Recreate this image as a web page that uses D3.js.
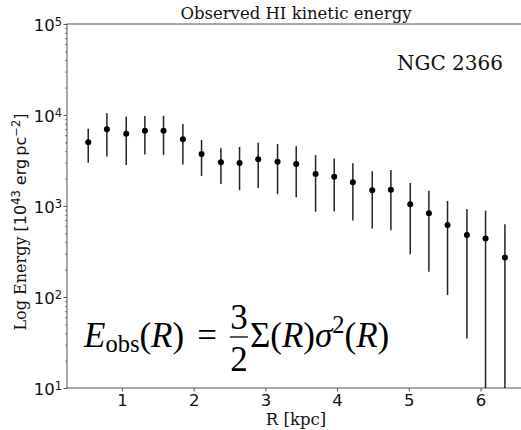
<!DOCTYPE html>
<html>
<head>
<meta charset="utf-8">
<script src="https://cdn.jsdelivr.net/npm/d3@7"></script>
<style>
    body { margin: 0; background: #ffffff; }
</style>
</head>
<body>
<script>
// radius of each annulus [kpc]
let radius = [0.53, 0.79, 1.06, 1.32, 1.58, 1.85, 2.11, 2.38, 2.64, 2.90, 3.17, 3.43,
              3.70, 3.96, 4.22, 4.49, 4.75, 5.02, 5.28, 5.54, 5.81, 6.07, 6.34]
// observed energy [1e43 erg pc^-2]
let energy = [5010, 6970, 6230, 6720, 6720, 5400, 3730, 3020, 2970, 3260, 3070, 2890,
              2250, 2100, 1820, 1490, 1510, 1045, 830, 620, 480, 440, 272]
// symmetric error on energy
let energyErr = [2030, 3480, 3400, 3050, 3090, 2540, 1590, 1280, 1480, 1680, 1720, 1640,
                 1385, 1230, 1125, 925, 970, 750, 640, 515, 445, 448, 359]
let xTicks = [1, 2, 3, 4, 5, 6]
let yTicks = [1e1, 1e2, 1e3, 1e4, 1e5]
let yTickExp = ['1', '2', '3', '4', '5']
let title = 'Observed HI kinetic energy'
let galaxy = 'NGC 2366'

function main(){

    let width = 521
    let height = 430
    let left = 67, right = 525, top = 24, bottom = 388

    let svg = d3.select('body')
        .append('svg')
        .attr('width', width)
        .attr('height', height)

    let x = d3.scaleLinear()
                .domain([0.234, 6.62])
                .range([left, right])

    let y = d3.scaleLog()
                .domain([10, 1e5])
                .range([bottom, top])

    // frame (right edge falls just outside the picture)
    svg.append('rect')
        .attr('x', left)
        .attr('y', top)
        .attr('width', right - left)
        .attr('height', bottom - top)
        .attr('fill', 'none')
        .attr('stroke', '#555')
        .attr('stroke-width', 1)

    // x axis
    let xAxis = svg.append('g')
        .attr('transform', 'translate(0,' + bottom + ')')
        .call(d3.axisBottom(x).tickValues(xTicks).tickSize(3.5).tickPadding(3).tickFormat(d3.format('d')))
    xAxis.select('.domain').remove()
    xAxis.selectAll('line').attr('stroke', '#555')
    xAxis.selectAll('text')
        .attr('font-family', 'DejaVu Sans')
        .attr('font-size', 16.5)
        .attr('fill', '#111')

    // minor ticks on the log axis
    let minor = []
    for (let k = 10; k < 1e5; k *= 10) {
        for (let m = 2; m < 10; m++) minor.push(k * m)
    }
    let yAxisMinor = svg.append('g')
        .attr('transform', 'translate(' + left + ',0)')
        .call(d3.axisLeft(y).tickValues(minor).tickSize(2).tickFormat(''))
    yAxisMinor.select('.domain').remove()
    yAxisMinor.selectAll('line').attr('stroke', '#777')

    let yAxis = svg.append('g')
        .attr('transform', 'translate(' + left + ',0)')
        .call(d3.axisLeft(y).tickValues(yTicks).tickSize(3.5).tickFormat(''))
    yAxis.select('.domain').remove()
    yAxis.selectAll('line').attr('stroke', '#555')

    // tick labels as 10^k
    yAxis.selectAll('.tick')
        .append('text')
        .attr('x', -5)
        .attr('y', 6)
        .attr('text-anchor', 'end')
        .attr('font-family', 'DejaVu Sans')
        .attr('font-size', 16.5)
        .attr('fill', '#111')
        .each(function(d, i){
            let t = d3.select(this)
            t.append('tspan').text('10')
            t.append('tspan').attr('font-size', 11.5).attr('dy', -5).text(yTickExp[i])
        })

    // error bars
    svg.append('g')
        .selectAll('line')
        .data(radius)
        .enter()
        .append('line')
        .attr('x1', function(d){ return x(d) })
        .attr('x2', function(d){ return x(d) })
        .attr('y1', function(d, i){ return y(energy[i] + energyErr[i]) })
        .attr('y2', function(d, i){
            return y(Math.max(energy[i] - energyErr[i], y.domain()[0]))    // clipped at the axis
        })
        .attr('stroke', '#222')
        .attr('stroke-width', 1.5)

    // points
    svg.append('g')
        .selectAll('circle')
        .data(radius)
        .enter()
        .append('circle')
        .attr('cx', function(d){ return x(d) })
        .attr('cy', function(d, i){ return y(energy[i]) })
        .attr('r', 3)
        .attr('fill', '#000')

    // title
    svg.append('text')
        .attr('x', 296)
        .attr('y', 19)
        .attr('text-anchor', 'middle')
        .attr('font-family', 'DejaVu Serif')
        .attr('font-size', 16.5)
        .attr('fill', '#111')
        .text(title)

    svg.append('text')
        .attr('x', 503)
        .attr('y', 70)
        .attr('text-anchor', 'end')
        .attr('font-family', 'DejaVu Serif')
        .attr('font-size', 20)
        .attr('fill', '#111')
        .text(galaxy)

    // axis labels
    svg.append('text')
        .attr('x', 296)
        .attr('y', 425)
        .attr('text-anchor', 'middle')
        .attr('font-family', 'DejaVu Serif')
        .attr('font-size', 16.5)
        .attr('fill', '#111')
        .text('R [kpc]')

    let yLab = svg.append('text')
        .attr('transform', 'translate(26,222) rotate(-90)')
        .attr('text-anchor', 'middle')
        .attr('font-size', 16)
        .attr('fill', '#111')
    yLab.append('tspan').attr('font-family', 'DejaVu Serif').text('Log Energy ')
    yLab.append('tspan').attr('font-family', 'DejaVu Sans').text('[10')
    yLab.append('tspan').attr('font-family', 'DejaVu Sans').attr('font-size', 11.5).attr('dy', -6).text('43')
    yLab.append('tspan').attr('font-family', 'DejaVu Sans').attr('dy', 6).text(' erg\u2009pc')
    yLab.append('tspan').attr('font-family', 'DejaVu Sans').attr('font-size', 11.5).attr('dy', -6).text('\u22122')
    yLab.append('tspan').attr('font-family', 'DejaVu Sans').attr('dy', 6).text(']')

    // formula
    let fs = 35
    let base = 347
    let eq1 = svg.append('text')
        .attr('x', 84)
        .attr('y', base)
        .attr('font-family', 'Liberation Serif')
        .attr('font-size', fs)
        .attr('fill', '#000')
    eq1.append('tspan').attr('font-style', 'italic').text('E')
    eq1.append('tspan').attr('font-size', fs * 0.7).attr('dy', 5).text('obs')
    eq1.append('tspan').attr('dy', -5).text('(')
    eq1.append('tspan').attr('font-style', 'italic').text('R')
    eq1.append('tspan').text(')')
    let ex = 84 + eq1.node().getComputedTextLength()

    let eqSign = svg.append('text')
        .attr('x', ex + 13)
        .attr('y', base)
        .attr('font-family', 'Liberation Serif')
        .attr('font-size', fs)
        .text('=')
    let fx = ex + 13 + eqSign.node().getComputedTextLength() + 13

    svg.append('text')
        .attr('x', fx + 9)
        .attr('y', 329)
        .attr('text-anchor', 'middle')
        .attr('font-family', 'Liberation Serif')
        .attr('font-size', fs)
        .text('3')
    svg.append('line')
        .attr('x1', fx)
        .attr('x2', fx + 18)
        .attr('y1', 337)
        .attr('y2', 337)
        .attr('stroke', '#000')
        .attr('stroke-width', 1.3)
    svg.append('text')
        .attr('x', fx + 9)
        .attr('y', 371)
        .attr('text-anchor', 'middle')
        .attr('font-family', 'Liberation Serif')
        .attr('font-size', fs)
        .text('2')

    let eq2 = svg.append('text')
        .attr('x', fx + 20)
        .attr('y', base)
        .attr('font-family', 'Liberation Serif')
        .attr('font-size', fs)
        .attr('fill', '#000')
    eq2.append('tspan').text('\u03a3(')
    eq2.append('tspan').attr('font-style', 'italic').text('R')
    eq2.append('tspan').text(')')
    eq2.append('tspan').attr('font-style', 'italic').text('\u03c3')
    eq2.append('tspan').attr('font-size', fs * 0.7).attr('dy', -14).text('2')
    eq2.append('tspan').attr('dy', 14).text('(')
    eq2.append('tspan').attr('font-style', 'italic').text('R')
    eq2.append('tspan').text(')')
}

main()
</script>
</body>
</html>
